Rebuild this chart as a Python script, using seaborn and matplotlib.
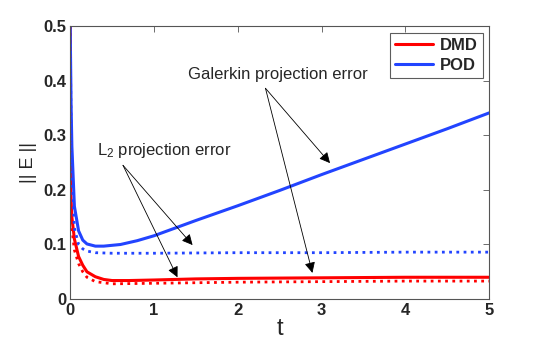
import pandas as pd
import matplotlib
matplotlib.use("Agg")
import matplotlib.pyplot as plt
import seaborn as sns

# --- datos ---
t_pod = [0, 0.01, 0.02, 0.05, 0.1, 0.15, 0.2, 0.3, 0.4, 0.6, 0.8, 1.0, 1.25, 1.5, 2.0, 2.5, 3.0, 3.5, 4.0, 4.5, 5.0]
pod_galerkin = [0.5, 0.36, 0.28, 0.17, 0.125, 0.108, 0.101, 0.097, 0.097, 0.100, 0.107, 0.116, 0.130, 0.144,
                0.171, 0.199, 0.228, 0.256, 0.284, 0.312, 0.341]

t_pod_l2 = [0, 0.01, 0.02, 0.05, 0.1, 0.15, 0.2, 0.3, 0.5, 1.0, 2.0, 3.0, 4.0, 5.0]
pod_l2 = [0.5, 0.32, 0.24, 0.13, 0.100, 0.092, 0.088, 0.085, 0.084, 0.084, 0.085, 0.085, 0.086, 0.086]

t_dmd = [0, 0.005, 0.02, 0.05, 0.1, 0.15, 0.2, 0.3, 0.4, 0.5, 0.7, 1.0, 1.5, 2.0, 3.0, 4.0, 5.0]
dmd_galerkin = [0.5, 0.2, 0.15, 0.11, 0.078, 0.062, 0.050, 0.041, 0.036, 0.034, 0.034, 0.035, 0.037, 0.038,
                0.039, 0.040, 0.040]

t_dmd_l2 = [0, 0.005, 0.02, 0.05, 0.1, 0.15, 0.2, 0.3, 0.5, 1.0, 2.0, 3.0, 4.0, 5.0]
dmd_l2 = [0.5, 0.18, 0.13, 0.09, 0.065, 0.050, 0.040, 0.032, 0.028, 0.029, 0.031, 0.032, 0.033, 0.033]

rojo = "#ff0000"
azul = "#2244ff"

sns.set_style("white")
plt.rcParams["font.family"] = ["Liberation Sans", "DejaVu Sans"]
plt.rcParams["mathtext.default"] = "regular"

fig = plt.figure(figsize=(5.4, 3.47), dpi=100)
ax = fig.add_axes([0.13, 0.138, 0.776, 0.787])

# curvas solidas (Galerkin) y punteadas (L2)
sns.lineplot(x=t_dmd, y=dmd_galerkin, ax=ax, color=rojo, lw=2.2, label="DMD")
sns.lineplot(x=t_pod, y=pod_galerkin, ax=ax, color=azul, lw=2.2, label="POD")
sns.lineplot(x=t_dmd_l2, y=dmd_l2, ax=ax, color=rojo, lw=2.0, linestyle=(0, (1, 1.6)))
sns.lineplot(x=t_pod_l2, y=pod_l2, ax=ax, color=azul, lw=2.0, linestyle=(0, (1, 1.6)))

ax.set_xlim(0, 5)
ax.set_ylim(0, 0.5)
ax.set_xticks([0, 1, 2, 3, 4, 5])
ax.set_yticks([0, 0.1, 0.2, 0.3, 0.4, 0.5])
ax.set_yticklabels(["0", "0.1", "0.2", "0.3", "0.4", "0.5"])
ax.tick_params(direction="in", top=True, right=True, length=4, width=0.6, color="#555555",
               labelsize=12, pad=3)
for lab in ax.get_xticklabels() + ax.get_yticklabels():
    lab.set_fontweight("bold")
for sp in ax.spines.values():
    sp.set_color("#555555")
    sp.set_linewidth(0.8)

ax.set_xlabel("t", fontsize=17, labelpad=0)
ax.set_ylabel("|| E ||", fontsize=13, labelpad=4)

leg = ax.legend(loc="upper right", frameon=True, fancybox=False,
                prop={"weight": "bold", "size": 12}, handlelength=2.3, borderpad=0.3,
                labelspacing=0.3, handletextpad=0.4, borderaxespad=0.4)
leg.get_frame().set_edgecolor("#333333")
leg.get_frame().set_linewidth(0.8)
for h in leg.get_lines():
    h.set_linewidth(2.2)

flecha = dict(arrowstyle="-|>", color="k", lw=0.6, mutation_scale=16, shrinkA=0, shrinkB=0)

# anotaciones Galerkin
ax.text(2.48, 0.411, "Galerkin projection error", fontsize=12, ha="center", va="center")
ax.annotate("", xy=(3.10, 0.249), xytext=(2.33, 0.386), arrowprops=flecha)
ax.annotate("", xy=(2.89, 0.048), xytext=(2.33, 0.386), arrowprops=flecha)

# anotaciones L2
ax.text(0.32, 0.273, "L$_2$ projection error", fontsize=12, ha="left", va="center")
ax.annotate("", xy=(1.46, 0.099), xytext=(0.63, 0.245), arrowprops=flecha)
ax.annotate("", xy=(1.28, 0.040), xytext=(0.63, 0.245), arrowprops=flecha)

plt.savefig("out.png", dpi=100)
plt.close()
